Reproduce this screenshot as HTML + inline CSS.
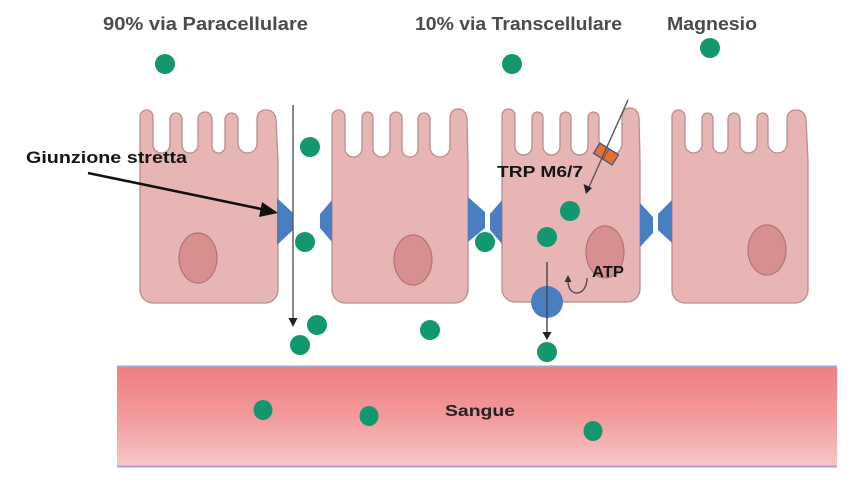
<!DOCTYPE html>
<html><head><meta charset="utf-8"><style>
html,body{margin:0;padding:0;background:#fff;}
svg{display:block;}
text{font-family:"Liberation Sans",sans-serif;font-weight:bold;}
</style></head><body>
<svg width="864" height="485" viewBox="0 0 864 485" xmlns="http://www.w3.org/2000/svg">
<defs>
<linearGradient id="blood" x1="0" y1="0" x2="0" y2="1">
<stop offset="0" stop-color="#ee7e81"/>
<stop offset="0.5" stop-color="#f29a9b"/>
<stop offset="1" stop-color="#f7c8c8"/>
</linearGradient>
</defs>

<!-- blood vessel -->
<rect x="117" y="366" width="720" height="101" fill="url(#blood)"/>
<line x1="117" y1="366.5" x2="837" y2="366.5" stroke="#a7a2cf" stroke-width="2"/>
<line x1="117" y1="466.5" x2="837" y2="466.5" stroke="#a7a2cf" stroke-width="2"/>

<!-- cells -->
<g fill="#e7b6b4" stroke="#b78f8e" stroke-width="1.3" stroke-linejoin="round">
<path d="M140,290 L140,116.5 A6.5,6.5 0 0 1 153,116.5 L153,144.5 A8.5,8.5 0 0 0 170,144.5 L170,119 A6,6 0 0 1 182,119 L182,145 A8,8 0 0 0 198,145 L198,119 A7,7 0 0 1 212,119 L212,146.5 A6.5,6.5 0 0 0 225,146.5 L225,119.5 A6.5,6.5 0 0 1 238,119.5 L238,143.5 A9.5,9.5 0 0 0 257,143.5 L257,120 Q257,110 266,110 Q275,110 276,120 L278,160 L278,290 A13,13 0 0 1 265,303 L153,303 A13,13 0 0 1 140,290 Z"/>
<path d="M332,290 L332,116.5 A6.5,6.5 0 0 1 345,116.5 L345,148.5 A8.5,8.5 0 0 0 362,148.5 L362,117.5 A5.5,5.5 0 0 1 373,117.5 L373,148.5 A8.5,8.5 0 0 0 390,148.5 L390,118 A6,6 0 0 1 402,118 L402,149 A8,8 0 0 0 418,149 L418,119 A6,6 0 0 1 430,119 L430,147 A10,10 0 0 0 450,147 L450,119 Q450,109 458,109 Q466,109 467,119 L468,162 L468,290 A13,13 0 0 1 455,303 L345,303 A13,13 0 0 1 332,290 Z"/>
<path d="M502,289 L502,115.5 A6.5,6.5 0 0 1 515,115.5 L515,146.5 A8.5,8.5 0 0 0 532,146.5 L532,117.5 A5.5,5.5 0 0 1 543,117.5 L543,146.5 A8.5,8.5 0 0 0 560,146.5 L560,117.5 A5.5,5.5 0 0 1 571,117.5 L571,146.5 A8.5,8.5 0 0 0 588,146.5 L588,117.5 A5.5,5.5 0 0 1 599,117.5 L599,143.5 A11.5,11.5 0 0 0 622,143.5 L622,118 Q622,108 630,108 Q638,108 639,118 L640,160 L640,289 A13,13 0 0 1 627,302 L515,302 A13,13 0 0 1 502,289 Z"/>
<path d="M672,290 L672,116.5 A6.5,6.5 0 0 1 685,116.5 L685,144.5 A8.5,8.5 0 0 0 702,144.5 L702,118.5 A5.5,5.5 0 0 1 713,118.5 L713,145.5 A7.5,7.5 0 0 0 728,145.5 L728,119 A6,6 0 0 1 740,119 L740,144.5 A8.5,8.5 0 0 0 757,144.5 L757,118.5 A5.5,5.5 0 0 1 768,118.5 L768,143.5 A9.5,9.5 0 0 0 787,143.5 L787,120 Q787,110 796,110 Q805,110 806,120 L808,160 L808,290 A13,13 0 0 1 795,303 L685,303 A13,13 0 0 1 672,290 Z"/>
</g>

<!-- nuclei -->
<g fill="#d78f90" stroke="#b27374" stroke-width="1.2">
<ellipse cx="198" cy="258" rx="19" ry="25"/>
<ellipse cx="413" cy="260" rx="19" ry="25"/>
<ellipse cx="605" cy="252" rx="19" ry="26"/>
<ellipse cx="767" cy="250" rx="19" ry="25"/>
</g>

<!-- tight junctions -->
<g fill="#4a7ec3">
<polygon points="277,198 293,213 293,230 277,245"/>
<polygon points="332,200 320,214 320,228 332,242"/>
<polygon points="468,197 485,212 485,228 468,242"/>
<polygon points="502,200 490,214 490,230 502,244"/>
<polygon points="640,203 653,217 653,233 640,247"/>
<polygon points="672,200 658,214 658,230 672,243"/>
</g>

<!-- transporter -->
<ellipse cx="547" cy="302" rx="16" ry="16" fill="#4a7ec3"/>

<!-- TRPM channel -->
<g transform="translate(606,154) rotate(32)">
<rect x="-11" y="-6" width="22" height="12" fill="#e8702b" stroke="#40598f" stroke-width="1.3"/>
<line x1="0" y1="-6" x2="0" y2="6" stroke="#40598f" stroke-width="1"/>
</g>

<!-- paracellular arrow -->
<line x1="293" y1="105" x2="293" y2="320" stroke="#555" stroke-width="1.4"/>
<polygon points="288.5,318 297.5,318 293,327" fill="#222"/>

<!-- TRPM arrow -->
<line x1="628" y1="100" x2="589" y2="187" stroke="#555" stroke-width="1.4"/>
<polygon points="583.5,184 592,188 586,194" fill="#222"/>

<!-- basolateral arrow -->
<line x1="547" y1="262" x2="547" y2="333" stroke="#444" stroke-width="1.4"/>
<polygon points="542.5,332 551.5,332 547,340" fill="#222"/>

<!-- ATP curved arrow -->
<path d="M587,278 C587,297 568,298 568,281" fill="none" stroke="#444" stroke-width="1.3"/>
<polygon points="564.5,282 571.5,282 568,275" fill="#333"/>

<!-- Giunzione arrow -->
<line x1="88" y1="173" x2="266" y2="210" stroke="#111" stroke-width="2.6"/>
<polygon points="278,213 262,202 259,217" fill="#111"/>

<!-- magnesium dots -->
<g fill="#13976f">
<circle cx="165" cy="64" r="10"/>
<circle cx="512" cy="64" r="10"/>
<circle cx="710" cy="48" r="10"/>
<circle cx="310" cy="147" r="10"/>
<circle cx="305" cy="242" r="10"/>
<circle cx="485" cy="242" r="10"/>
<circle cx="570" cy="211" r="10"/>
<circle cx="547" cy="237" r="10"/>
<circle cx="317" cy="325" r="10"/>
<circle cx="300" cy="345" r="10"/>
<circle cx="430" cy="330" r="10"/>
<circle cx="547" cy="352" r="10"/>
<ellipse cx="263" cy="410" rx="9.5" ry="10"/>
<ellipse cx="369" cy="416" rx="9.5" ry="10"/>
<ellipse cx="593" cy="431" rx="9.5" ry="10"/>
</g>

<!-- labels -->
<text x="103" y="30" font-size="18" fill="#4b4b4b" textLength="205" lengthAdjust="spacingAndGlyphs">90% via Paracellulare</text>
<text x="415" y="30" font-size="18" fill="#4b4b4b" textLength="207" lengthAdjust="spacingAndGlyphs">10% via Transcellulare</text>
<text x="667" y="30" font-size="18" fill="#4b4b4b" textLength="90" lengthAdjust="spacingAndGlyphs">Magnesio</text>
<text x="26" y="163" font-size="16.5" fill="#141414" textLength="161" lengthAdjust="spacingAndGlyphs">Giunzione stretta</text>
<text x="497" y="177" font-size="16" fill="#141414" textLength="86" lengthAdjust="spacingAndGlyphs">TRP M6/7</text>
<text x="592" y="277" font-size="16" fill="#141414" textLength="32" lengthAdjust="spacingAndGlyphs">ATP</text>
<text x="445" y="416" font-size="16" fill="#222" textLength="70" lengthAdjust="spacingAndGlyphs">Sangue</text>
</svg>
</body></html>
